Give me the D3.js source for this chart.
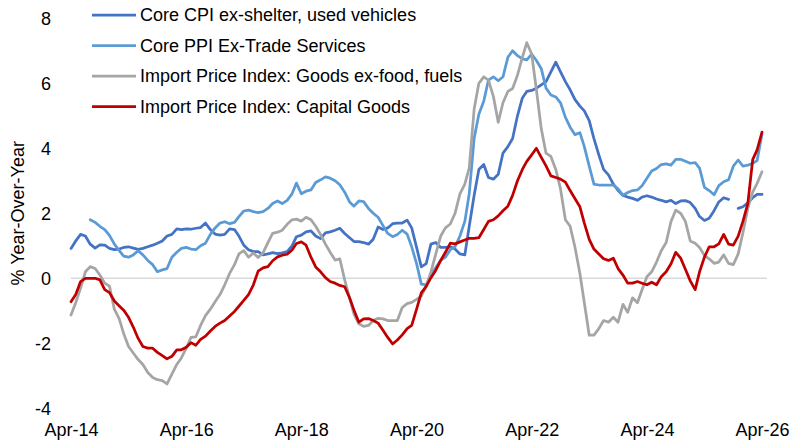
<!DOCTYPE html>
<html>
<head>
<meta charset="utf-8">
<script src="https://cdn.jsdelivr.net/npm/d3@7"></script>
<style>
  body { margin: 0; background: #fff; }
  svg { display: block; font-family: "Liberation Sans", Arial, sans-serif; }
  .axis text { font-size: 18px; fill: #000; }
</style>
</head>
<body>
<div class="chart"></div>
<script>
// monthly observations, Apr-14 .. Apr-26
const startMonth = new Date(2014, 3, 1);

const seriesNames = [
  "Core CPI ex-shelter, used vehicles",
  "Core PPI Ex-Trade Services",
  "Import Price Index: Goods ex-food, fuels",
  "Import Price Index: Capital Goods"
];
const seriesColors = ["#4472C4", "#5B9BD5", "#A5A5A5", "#C00000"];

const coreCpi = [
  0.92, 1.15, 1.35, 1.3, 1.05, 0.93, 1.03, 1.02, 0.92, 0.88, 0.9, 0.95, 0.97, 0.93, 0.89, 0.92,
  0.97, 1.02, 1.08, 1.15, 1.3, 1.35, 1.52, 1.5, 1.52, 1.51, 1.54, 1.56, 1.7, 1.5, 1.36, 1.33,
  1.35, 1.52, 1.5, 1.3, 1.02, 0.88, 0.82, 0.82, 0.72, 0.75, 0.79, 0.76, 0.78, 0.82, 1.0, 1.28,
  1.33, 1.43, 1.46, 1.3, 1.22, 1.4, 1.43, 1.48, 1.54, 1.38, 1.25, 1.13, 1.13, 1.1, 1.05, 1.2,
  1.58, 1.5, 1.55, 1.68, 1.7, 1.7, 1.79, 1.55, 0.95, 0.35, 0.45, 1.05, 1.1, 0.95, 0.95, 0.97,
  0.9, 0.75, 0.72, 1.6, 2.55, 3.35, 3.5, 3.1, 3.05, 3.2, 3.85, 4.05, 4.3, 5.0, 5.55, 5.75,
  5.78, 5.85, 5.95, 6.05, 6.35, 6.65, 6.35, 6.05, 5.8, 5.5, 5.3, 5.15, 4.85, 4.3, 3.8, 3.35,
  3.18, 2.9, 2.7, 2.55, 2.5, 2.46, 2.4, 2.5, 2.54, 2.5, 2.44, 2.4, 2.35, 2.4, 2.3, 2.38,
  2.39, 2.33, 2.15, 1.9, 1.78, 1.85, 2.08, 2.35, 2.48, 2.43, null, 2.15, 2.2, 2.32, 2.48, 2.58,
  2.58
];

const corePpi = [
  null, null, null, null, 1.8, 1.72, 1.6, 1.5, 1.32, 1.05, 0.85, 0.68, 0.65, 0.72, 0.85, 0.72,
  0.55, 0.42, 0.2, 0.26, 0.3, 0.65, 0.8, 0.92, 0.95, 0.9, 0.88, 1.0, 1.08, 1.35, 1.55, 1.7,
  1.74, 1.68, 1.72, 1.9, 2.07, 2.1, 2.05, 2.02, 2.05, 2.15, 2.3, 2.38, 2.3, 2.4, 2.6, 2.93,
  2.6, 2.68, 2.72, 2.95, 3.03, 3.12, 3.08, 3.0, 2.88, 2.65, 2.35, 2.22, 2.38, 2.36, 2.15, 2.0,
  1.88, 1.62, 1.38, 1.28, 1.35, 1.48, 1.36, 0.97, 0.45, -0.18, -0.2, 0.1, 0.33, 0.55, 0.65, 0.88,
  0.97, 1.3, 1.75, 2.6, 4.3, 5.05, 5.45, 6.1, 6.2, 6.08, 6.2, 6.8, 7.0, 6.85, 6.75, 6.72,
  6.9, 6.7, 6.45, 5.85, 5.64, 5.58, 5.4, 4.95, 4.65, 4.42, 4.48, 4.05, 3.45, 2.9, 2.87, 2.87,
  2.87, 2.87, 2.75, 2.55, 2.64, 2.7, 2.72, 2.85, 3.08, 3.3, 3.38, 3.5, 3.52, 3.48, 3.66, 3.66,
  3.6, 3.54, 3.56, 3.39, 2.8, 2.7, 2.57, 2.85, 2.97, 3.03, 3.45, 3.64, 3.45, 3.48, 3.54, 3.62,
  4.45
];

const importGoods = [
  -1.13, -0.75, -0.3, 0.2, 0.36, 0.3, 0.1, -0.15, -0.24, -0.95, -1.25, -1.7, -2.1, -2.3, -2.5, -2.65,
  -2.9, -3.05, -3.12, -3.15, -3.25, -2.95, -2.65, -2.45, -2.15, -1.82, -1.8, -1.45, -1.15, -0.95, -0.72, -0.5,
  -0.2, 0.15, 0.42, 0.75, 0.85, 0.65, 0.78, 0.64, 0.78, 1.1, 1.38, 1.42, 1.48, 1.66, 1.8, 1.82,
  1.76, 1.88, 1.8, 1.6, 1.35, 1.05, 0.8, 0.56, 0.6, -0.05, -0.6, -1.1, -1.4, -1.48, -1.45, -1.3,
  -1.23, -1.25, -1.3, -1.3, -1.3, -0.9, -0.78, -0.74, -0.65, -0.55, -0.25, 0.2, 0.75, 1.3, 1.55, 1.67,
  2.0, 2.6, 2.9, 3.4, 5.2, 6.0, 6.2, 6.1, 5.6, 4.8, 5.4, 5.75, 5.84, 6.25, 6.8, 7.25,
  6.9, 5.8, 4.6, 3.85, 3.75, 3.35, 2.75, 1.8, 1.6, 0.95, 0.15, -0.75, -1.75, -1.75, -1.55, -1.3,
  -1.35, -1.2, -1.35, -0.8, -1.05, -0.6, -0.75, -0.35, 0.05, 0.2, 0.5, 0.85, 1.1, 1.75, 2.1, 2.0,
  1.75, 1.15, 1.08, 0.95, 0.7, 0.6, 0.46, 0.5, 0.72, 0.46, 0.42, 0.75, 1.4, 2.15, 2.65, 2.92,
  3.28
];

const importCapital = [
  -0.72, -0.5, -0.1, 0, 0, 0, -0.05, -0.35, -0.44, -0.7, -0.85, -0.98, -1.2, -1.5, -1.85, -2.1,
  -2.15, -2.15, -2.28, -2.38, -2.48, -2.4, -2.2, -2.2, -2.12, -1.98, -2.06, -1.88, -1.78, -1.62, -1.48, -1.38,
  -1.3, -1.16, -1.02, -0.86, -0.68, -0.5, -0.2, 0.22, 0.32, 0.36, 0.54, 0.66, 0.71, 0.74, 0.87, 1.07,
  1.12, 1.02, 0.65, 0.35, 0.2, 0.02, -0.1, -0.15, -0.22, -0.26, -0.6, -0.98, -1.35, -1.25, -1.24, -1.3,
  -1.38, -1.6, -1.82, -2.02, -1.9, -1.74, -1.55, -1.45, -0.95, -0.45, -0.25, 0.02, 0.25, 0.55, 0.8, 1.08,
  1.06, 1.12, 1.18, 1.23, 1.23, 1.25, 1.5, 1.75, 1.8, 1.92, 2.08, 2.22, 2.55, 3.0, 3.35, 3.6,
  3.8, 4.0, 3.72, 3.46, 3.15, 3.1, 3.05, 2.96, 2.7, 2.45, 2.2, 1.7, 1.2, 0.9, 0.75, 0.6,
  0.55, 0.62, 0.3, 0.1, -0.15, -0.15, -0.1, -0.15, -0.2, -0.12, -0.2, 0.05, 0.2, 0.45, 0.8, 0.62,
  0.28, -0.08, -0.35, 0.2, 0.65, 0.97, 0.97, 1.06, 1.35, 1.05, 1.02, 1.3, 1.75, 2.3, 3.65, 3.95,
  4.5
];

const yTicks = [-4, -2, 0, 2, 4, 6, 8];
const xTickLabels = ["Apr-14", "Apr-16", "Apr-18", "Apr-20", "Apr-22", "Apr-24", "Apr-26"];
const yTitle = "% Year-Over-Year";

const width = 790, height = 446;
const months = coreCpi.map((_, i) => d3.timeMonth.offset(startMonth, i));
const allSeries = [coreCpi, corePpi, importGoods, importCapital];

const svg = d3.select(".chart").append("svg")
  .attr("width", width)
  .attr("height", height);

const x = d3.scaleTime()
  .domain([months[0], months[months.length - 1]])
  .range([71, 762]);

const y = d3.scaleLinear()
  .domain([-4, 8])
  .range([408.3, 18.3]);

// zero line
svg.append("line")
  .attr("x1", 71)
  .attr("x2", 767)
  .attr("y1", y(0))
  .attr("y2", y(0))
  .attr("stroke", "#D9D9D9")
  .attr("stroke-width", 1.5);

// y axis (plain hyphen minus like the original)
const yAxis = svg.append("g")
  .attr("class", "axis")
  .attr("transform", "translate(51,0)")
  .call(d3.axisLeft(y).tickValues(yTicks).tickSize(0).tickPadding(0).tickFormat(d => String(d)));
yAxis.select(".domain").remove();
yAxis.selectAll("text").attr("font-family", null).attr("font-size", null);

svg.append("text")
  .attr("class", "axis")
  .attr("transform", "translate(24," + ((y(-4) + y(8)) / 2) + ") rotate(-90)")
  .attr("text-anchor", "middle")
  .attr("font-size", 18)
  .text(yTitle);

// x axis
const xTickDates = xTickLabels.map(s => d3.timeParse("%b-%y")(s));
const xAxis = svg.append("g")
  .attr("class", "axis")
  .attr("transform", "translate(0," + 423 + ")")
  .call(d3.axisBottom(x).tickValues(xTickDates).tickSize(0).tickPadding(0)
    .tickFormat((d, i) => xTickLabels[i]));
xAxis.select(".domain").remove();
xAxis.selectAll("text").attr("font-family", null).attr("font-size", null).attr("dy", "0.71em");

// lines
const line = d3.line()
  .defined(d => d.v != null)
  .x(d => x(d.date))
  .y(d => y(d.v));

allSeries.forEach((vals, k) => {
  const pts = vals.map((v, i) => ({date: months[i], v: v}));
  svg.append("path")
    .datum(pts)
    .attr("fill", "none")
    .attr("stroke", seriesColors[k])
    .attr("stroke-width", 2.75)
    .attr("stroke-linejoin", "round")
    .attr("stroke-linecap", "round")
    .attr("d", line);
});

// legend
const legend = svg.append("g").attr("transform", "translate(92,15)");
seriesNames.forEach((name, k) => {
  const g = legend.append("g").attr("transform", "translate(0," + (k * 30.5) + ")");
  g.append("line")
    .attr("x1", 0).attr("x2", 44)
    .attr("y1", 0).attr("y2", 0)
    .attr("stroke", seriesColors[k])
    .attr("stroke-width", 2.75);
  g.append("text")
    .attr("x", 48)
    .attr("dy", "0.35em")
    .attr("font-size", 18)
    .text(name);
});
</script>
</body>
</html>
